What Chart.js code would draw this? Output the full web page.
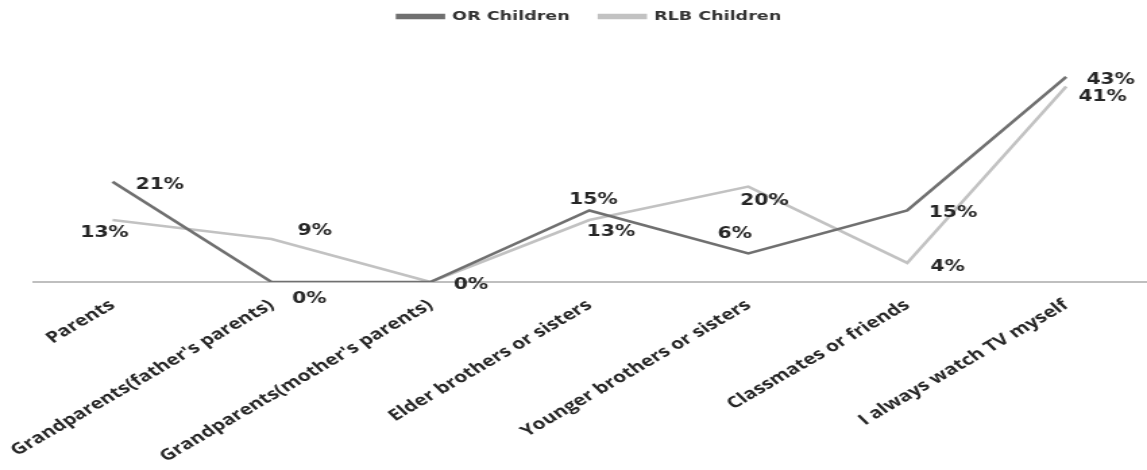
<!DOCTYPE html>
<html>
<head>
<meta charset="utf-8">
<script src="https://cdn.jsdelivr.net/npm/chart.js@4.4.1/dist/chart.umd.min.js"></script>
<style>
  html, body { margin: 0; padding: 0; background: #fff; overflow: hidden; }
  /* chart is drawn narrow and stretched sideways */
  #wrap { width: 850px; height: 470px; transform: scaleX(1.3494); transform-origin: 0 0; }
</style>
</head>
<body>
<div id="wrap"><canvas id="tvChart" width="850" height="470"></canvas></div>
<script>
// who the children watch TV with
const categories = [
  'Parents',
  "Grandparents(father's parents)",
  "Grandparents(mother's parents)",
  'Elder brothers or sisters',
  'Younger brothers or sisters',
  'Classmates or friends',
  'I always watch TV myself'
];
const seriesNames = ['OR Children', 'RLB Children'];
const orValues = [21, 0, 0, 15, 6, 15, 43];
const rlbValues = [13, 9, 0, 13, 20, 4, 41];

// where each % label sits relative to its point (null = not drawn)
const labelOffsets = [
  [[35, 3], [28, 17], [30, 3], [3, -10], [-10, -19], [34, 3], [33, 3]],
  [[-6, 13], [32, -8], null, [16, 12], [12, 15], [30, 4], [27, 11]]
];

const percentLabels = {
  id: 'percentLabels',
  afterDatasetsDraw(chart) {
    const { ctx } = chart;
    ctx.save();
    ctx.font = 'bold 15px "DejaVu Sans"';
    ctx.fillStyle = '#262626';
    ctx.textAlign = 'center';
    ctx.textBaseline = 'middle';
    chart.data.datasets.forEach((ds, i) => {
      chart.getDatasetMeta(i).data.forEach((pt, j) => {
        const off = labelOffsets[i][j];
        if (!off) return;
        ctx.fillText(ds.data[j] + '%', pt.x + off[0], pt.y + off[1]);
      });
    });
    ctx.restore();
  }
};

const ctx = document.getElementById('tvChart').getContext('2d');
new Chart(ctx, {
  type: 'line',
  data: {
    labels: categories,
    datasets: [
      {
        label: seriesNames[0],
        data: orValues,
        borderColor: '#707070',
        backgroundColor: '#707070',
        borderWidth: 2.6,
        pointRadius: 0,
        tension: 0
      },
      {
        label: seriesNames[1],
        data: rlbValues,
        borderColor: '#c2c2c2',
        backgroundColor: '#c2c2c2',
        borderWidth: 2.6,
        pointRadius: 0,
        tension: 0
      }
    ]
  },
  options: {
    responsive: false,
    animation: false,
    // legend padding is large, so pull the whole block up a little
    layout: { padding: { left: 24.5, right: 1, top: -12, bottom: 0 } },
    plugins: {
      tooltip: { enabled: false },
      legend: {
        position: 'top',
        labels: {
          color: '#333',
          font: { family: 'DejaVu Sans', size: 13, weight: 'bold' },
          boxWidth: 34,
          boxHeight: 3,
          padding: 22
        }
      }
    },
    scales: {
      x: {
        offset: true,
        grid: { display: false },
        border: { display: true, color: '#bfbfbf', width: 2 },
        ticks: {
          color: '#262626',
          font: { family: 'Open Sans', size: 15.5, weight: '700' },
          minRotation: 38,
          maxRotation: 38,
          autoSkip: false,
          padding: 6
        },
        afterFit(scale) { scale.height = 188; }
      },
      y: { display: false, min: 0, max: 52.2 }
    }
  },
  plugins: [percentLabels]
});
</script>
</body>
</html>
